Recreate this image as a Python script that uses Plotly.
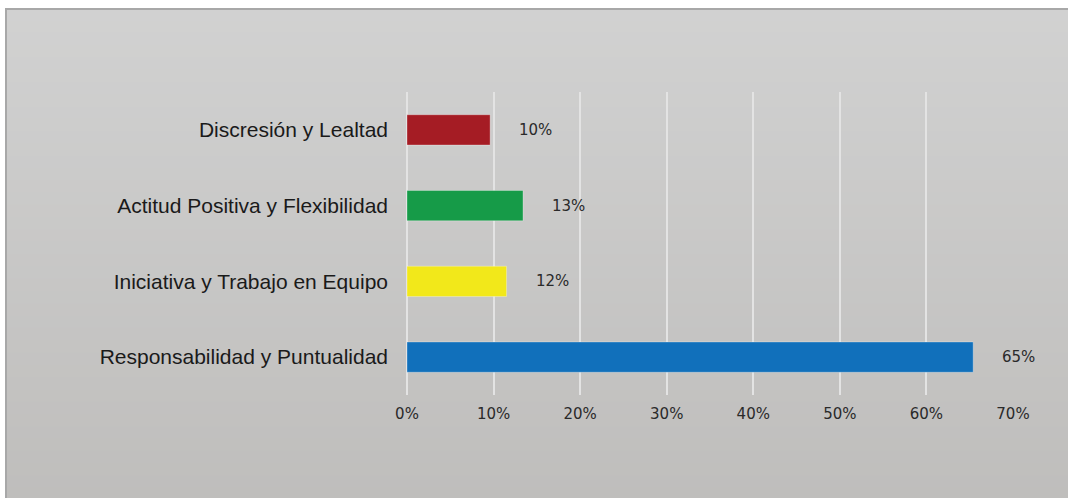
import plotly.graph_objects as go

# data (bottom to top, as plotly draws categorical y)
categories = [
    "Responsabilidad y Puntualidad",
    "Iniciativa y Trabajo en Equipo",
    "Actitud Positiva y Flexibilidad",
    "Discresión y Lealtad",
]
shares = [0.654, 0.115, 0.134, 0.096]
share_labels = ["65%", "12%", "13%", "10%"]
bar_colors = ["#1170bb", "#f2e81a", "#169b48", "#a51c24"]
x_ticks = [0, 0.1, 0.2, 0.3, 0.4, 0.5, 0.6, 0.7]

W, H = 1068, 498
L, R, T, B = 407, 55, 92, 103


def px_x(px):
    # pixel -> paper coordinate
    return (px - L) / (W - L - R)


def px_y(py):
    return (H - B - py) / (H - T - B)


fig = go.Figure()

fig.add_trace(go.Bar(
    x=shares, y=categories,
    orientation='h',
    marker=dict(color=bar_colors, line=dict(color='rgba(255,255,255,0.3)', width=1)),
    width=0.4,
    hoverinfo='skip',
    showlegend=False
))

# data labels to the right of each bar
for v, c, lab in zip(shares, categories, share_labels):
    fig.add_annotation(
        x=v, y=c, text=lab, showarrow=False,
        xanchor='left', yanchor='middle', xshift=27,
        font=dict(family='DejaVu Sans', size=15, color='#2a2a2a')
    )

# grey gradient background made of thin stripes
shapes = []
top_c, bot_c = (209, 209, 209), (191, 190, 188)
n = 40
y0_px, y1_px = 8, H + 2
for i in range(n):
    f = i / (n - 1)
    col = tuple(int(round(a + (b - a) * f)) for a, b in zip(top_c, bot_c))
    ya = y0_px + (y1_px - y0_px) * i / n
    yb = y0_px + (y1_px - y0_px) * (i + 1) / n + 1
    shapes.append(dict(
        type='rect', xref='paper', yref='paper', layer='below',
        x0=px_x(5), x1=px_x(W + 5), y0=px_y(ya), y1=px_y(yb),
        fillcolor='rgb(%d,%d,%d)' % col, line=dict(width=0)
    ))
# top and left border of the chart area
border = dict(color='#a8a8a8', width=2)
shapes.append(dict(type='line', xref='paper', yref='paper', layer='below',
                   x0=px_x(5), x1=px_x(W + 5), y0=px_y(9), y1=px_y(9), line=border))
shapes.append(dict(type='line', xref='paper', yref='paper', layer='below',
                   x0=px_x(6), x1=px_x(6), y0=px_y(8), y1=px_y(H + 5), line=border))

fig.update_layout(
    width=W, height=H,
    margin=dict(l=L, r=R, t=T, b=B),
    paper_bgcolor='white',
    plot_bgcolor='rgba(0,0,0,0)',
    shapes=shapes,
    bargap=0.6,
    xaxis=dict(
        range=[0, 0.7], tickvals=x_ticks, tickformat='.0%',
        showgrid=True, gridcolor='#e3e3e3', gridwidth=1.5,
        zeroline=True, zerolinecolor='#e3e3e3', zerolinewidth=1.5,
        showline=False, ticks='',
        ticklabelstandoff=8,
        tickfont=dict(family='DejaVu Sans', size=15, color='#2a2a2a'),
        fixedrange=True
    ),
    yaxis=dict(
        categoryorder='array', categoryarray=categories,
        showgrid=False, zeroline=False, showline=False, ticks='',
        ticklabelstandoff=18,
        tickfont=dict(family='Liberation Sans', size=21, color='#1a1a1a'),
        fixedrange=True
    ),
    font=dict(family='Liberation Sans')
)

fig.write_html("out.html", config={'displayModeBar': False},
               post_script="document.body.style.margin='0';")
